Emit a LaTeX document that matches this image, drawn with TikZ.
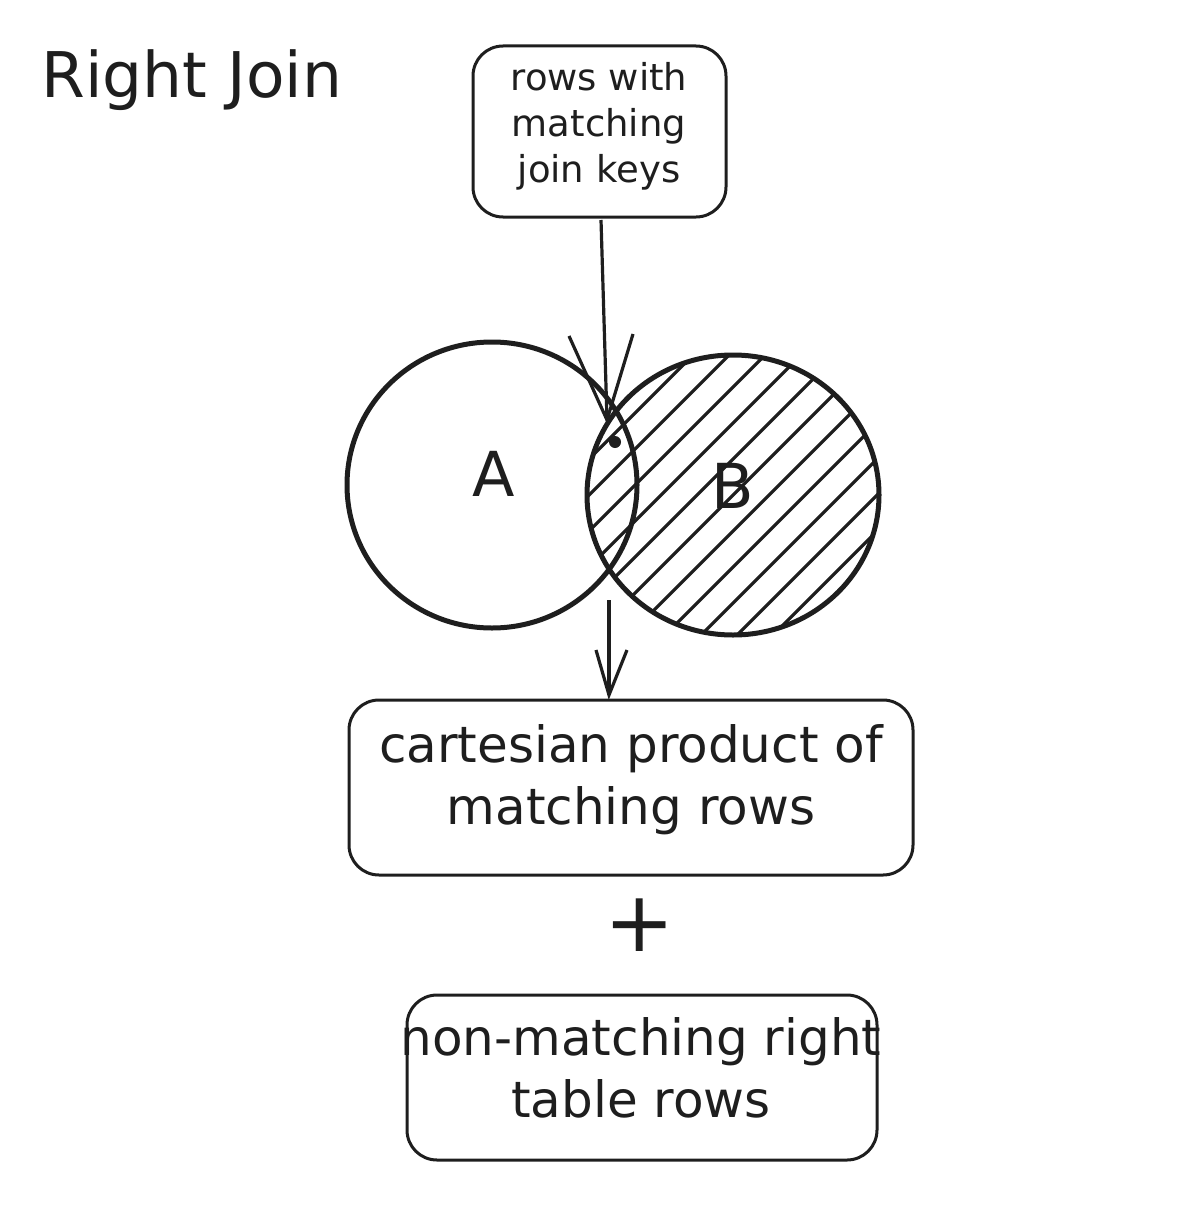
\documentclass[tikz,border=0pt]{standalone}
\usepackage{fontspec}
\setmainfont{DejaVu Sans}
\begin{document}
\begin{tikzpicture}[x=1pt,y=-1pt,
  box/.style={draw=ink,line width=3pt,rounded corners=30pt},
  lbl/.style={text=ink,align=center},
  arr/.style={draw=ink,line width=3.2pt},
  circ/.style={draw=ink,line width=5pt}]
\definecolor{ink}{HTML}{1E1E1E}
\useasboundingbox (0,0) rectangle (1198,1215);
\node[lbl,anchor=west,font=\fontsize{63}{70}\selectfont] (title) at (38,80) {Right Join};
\draw[box] (473,46) rectangle (726,217);
\node[lbl,font=\fontsize{37}{46}\selectfont] (top) at (599,126) {rows with\\matching\\join keys};
\begin{scope}
\clip (733,495) ellipse (146 and 140);
\foreach \k in {-12,...,12}
  \draw[ink,line width=3.2pt] ({733+\k*36-200},695) -- ({733+\k*36+200},295);
\end{scope}
\fill[white] (492,485) ellipse (145 and 143);
\begin{scope}
\clip (492,485) ellipse (145 and 143);
\clip (733,495) ellipse (146 and 140);
\foreach \k in {-12,...,12}
  \draw[ink,line width=3.2pt] ({733+\k*36-200},695) -- ({733+\k*36+200},295);
\end{scope}
\draw[circ] (733,495) ellipse (146 and 140);
\draw[circ] (492,485) ellipse (145 and 143);
\fill[ink] (615,442) circle (6);
\node[lbl,font=\fontsize{62}{70}\selectfont] (A) at (494,474) {A};
\node[lbl,font=\fontsize{62}{70}\selectfont] (B) at (733,486) {B};
\coordinate (t1) at (601,220);
\coordinate (t2) at (607,420);
\draw[arr] (t1) -- (t2);
\draw[arr] (569,336) -- (t2) -- (633,334);
\coordinate (m1) at (609,600);
\coordinate (m2) at (609,695);
\draw[arr] (m1) -- (m2);
\draw[arr] (596,650) -- (m2) -- (627,650);
\draw[box] (349,700) rectangle (913,875);
\node[lbl,font=\fontsize{50}{62}\selectfont] (cp) at (631,780) {cartesian product of\\matching rows};
\node[lbl,font=\fontsize{84}{90}\selectfont] (plus) at (640,925) {+};
\draw[box] (407,995) rectangle (877,1160);
\node[lbl,font=\fontsize{50}{62}\selectfont] (nm) at (641,1068) {non-matching right\\table rows};
\end{tikzpicture}
\end{document}
